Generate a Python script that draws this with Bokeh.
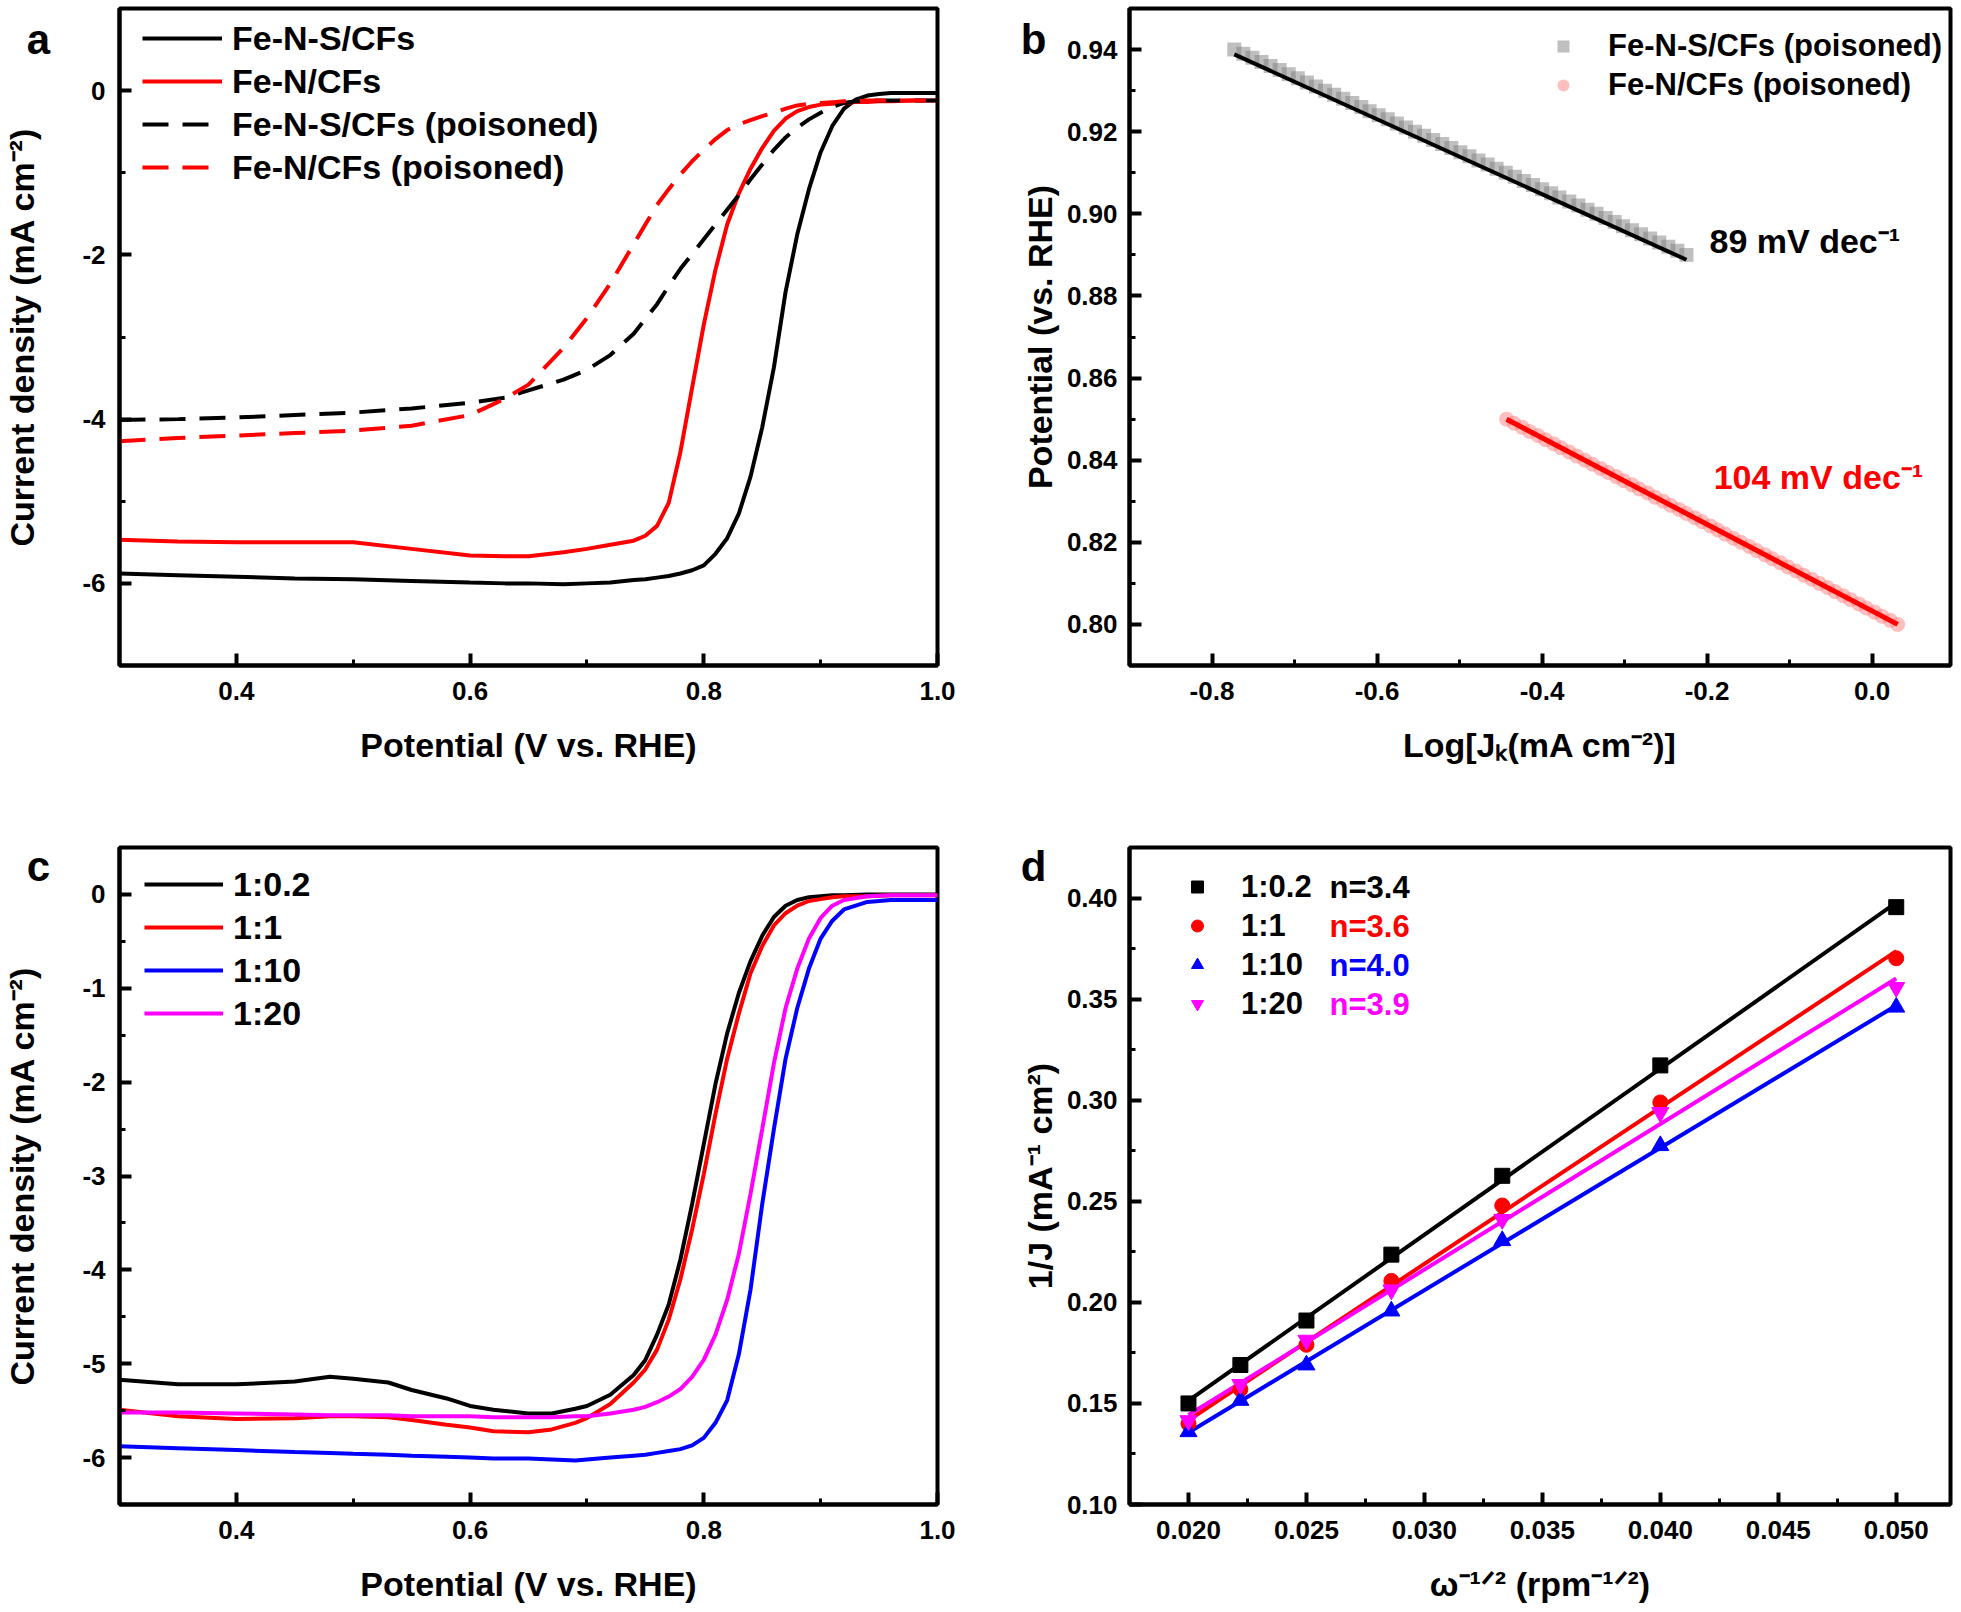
import numpy as np
from bokeh.plotting import figure
from bokeh.models import Range1d, FixedTicker, Legend, LegendItem, Label, NumeralTickFormatter
from bokeh.layouts import row, column
from bokeh.embed import file_html
from bokeh.resources import INLINE

FONT = "Liberation Sans"

# ---------------- Panel a data ----------------
a_x = [0.30, 0.35, 0.40, 0.45, 0.50, 0.55, 0.60, 0.63, 0.65, 0.68, 0.70, 0.72, 0.74, 0.75,
       0.76, 0.77, 0.78, 0.79, 0.80, 0.81, 0.82, 0.83, 0.84, 0.85, 0.86, 0.87, 0.88, 0.89,
       0.90, 0.91, 0.92, 0.93, 0.94, 0.95, 0.96, 0.98, 1.00]
a_fens = [-5.88, -5.90, -5.92, -5.94, -5.95, -5.97, -5.99, -6.00, -6.00, -6.01, -6.00, -5.99, -5.96, -5.95,
          -5.93, -5.91, -5.88, -5.84, -5.78, -5.64, -5.45, -5.15, -4.70, -4.10, -3.37, -2.45, -1.75, -1.20,
          -0.75, -0.43, -0.22, -0.11, -0.06, -0.04, -0.03, -0.03, -0.03]
a_fen = [-5.47, -5.49, -5.50, -5.50, -5.50, -5.58, -5.66, -5.67, -5.67, -5.62, -5.58, -5.53, -5.48, -5.42,
         -5.30, -5.02, -4.40, -3.62, -2.85, -2.18, -1.63, -1.25, -0.95, -0.70, -0.49, -0.34, -0.25, -0.20,
         -0.17, -0.16, -0.15, -0.14, -0.14, -0.13, -0.13, -0.12, -0.12]
a_fens_p = [-4.01, -4.00, -3.98, -3.95, -3.92, -3.87, -3.80, -3.74, -3.65, -3.52, -3.40, -3.22, -2.96, -2.78,
            -2.60, -2.38, -2.17, -1.99, -1.81, -1.63, -1.45, -1.27, -1.08, -0.90, -0.72, -0.57, -0.45, -0.35,
            -0.27, -0.20, -0.15, -0.13, -0.12, -0.12, -0.12, -0.12, -0.12]
a_fen_p = [-4.27, -4.23, -4.20, -4.17, -4.14, -4.08, -3.95, -3.75, -3.58, -3.13, -2.77, -2.35, -1.87, -1.63,
           -1.39, -1.20, -1.02, -0.86, -0.72, -0.59, -0.48, -0.41, -0.36, -0.31, -0.27, -0.22, -0.18, -0.16,
           -0.15, -0.14, -0.13, -0.13, -0.12, -0.12, -0.12, -0.12, -0.12]
a_labels = ["Fe-N-S/CFs", "Fe-N/CFs", "Fe-N-S/CFs (poisoned)", "Fe-N/CFs (poisoned)"]

# ---------------- Panel b data ----------------
b_fens_x = [-0.773, -0.762, -0.751, -0.740, -0.729, -0.718, -0.707, -0.696, -0.685, -0.674,
            -0.663, -0.652, -0.641, -0.630, -0.619, -0.609, -0.598, -0.587, -0.576, -0.565,
            -0.554, -0.543, -0.532, -0.521, -0.510, -0.499, -0.488, -0.477, -0.466, -0.455,
            -0.444, -0.433, -0.422, -0.411, -0.400, -0.389, -0.379, -0.367, -0.356, -0.345,
            -0.334, -0.323, -0.312, -0.302, -0.291, -0.280, -0.269, -0.258, -0.247, -0.236, -0.225]
b_fens_y = [0.940, 0.939, 0.938, 0.937, 0.936, 0.935, 0.934, 0.933, 0.932, 0.931,
            0.930, 0.929, 0.928, 0.927, 0.926, 0.925, 0.924, 0.923, 0.922, 0.921,
            0.920, 0.919, 0.918, 0.917, 0.916, 0.915, 0.914, 0.913, 0.912, 0.911,
            0.910, 0.909, 0.908, 0.907, 0.906, 0.905, 0.904, 0.903, 0.902, 0.901,
            0.900, 0.899, 0.898, 0.897, 0.896, 0.895, 0.894, 0.893, 0.892, 0.891, 0.890]
b_fen_x = [-0.443, -0.434, -0.424, -0.415, -0.405, -0.396, -0.386, -0.377, -0.367, -0.358,
           -0.348, -0.339, -0.329, -0.320, -0.310, -0.301, -0.291, -0.282, -0.272, -0.263,
           -0.253, -0.244, -0.234, -0.225, -0.215, -0.206, -0.196, -0.187, -0.178, -0.168,
           -0.159, -0.149, -0.140, -0.130, -0.121, -0.111, -0.102, -0.092, -0.083, -0.073,
           -0.064, -0.054, -0.045, -0.035, -0.026, -0.016, -0.007, 0.003, 0.012, 0.022, 0.031]
b_fen_y = [0.850, 0.849, 0.848, 0.847, 0.846, 0.845, 0.844, 0.843, 0.842, 0.841,
           0.840, 0.839, 0.838, 0.837, 0.836, 0.835, 0.834, 0.833, 0.832, 0.831,
           0.830, 0.829, 0.828, 0.827, 0.826, 0.825, 0.824, 0.823, 0.822, 0.821,
           0.820, 0.819, 0.818, 0.817, 0.816, 0.815, 0.814, 0.813, 0.812, 0.811,
           0.810, 0.809, 0.808, 0.807, 0.806, 0.805, 0.804, 0.803, 0.802, 0.801, 0.800]
b_labels = ["Fe-N-S/CFs (poisoned)", "Fe-N/CFs (poisoned)"]
b_slopes = ["89 mV dec\u207b\u00b9", "104 mV dec\u207b\u00b9"]

# ---------------- Panel c data ----------------
c_x = [0.30, 0.35, 0.40, 0.45, 0.48, 0.50, 0.53, 0.55, 0.58, 0.60, 0.62, 0.65, 0.67, 0.69, 0.70,
       0.72, 0.74, 0.75, 0.76, 0.77, 0.78, 0.79, 0.80, 0.81, 0.82, 0.83, 0.84, 0.85, 0.86, 0.87,
       0.88, 0.89, 0.90, 0.91, 0.92, 0.94, 0.96, 0.98, 1.00]
c_r02 = [-5.17, -5.22, -5.22, -5.19, -5.14, -5.16, -5.20, -5.28, -5.37, -5.45, -5.49, -5.53, -5.53, -5.48, -5.45,
         -5.33, -5.12, -4.96, -4.69, -4.37, -3.89, -3.30, -2.66, -2.02, -1.48, -1.05, -0.71, -0.44, -0.24, -0.12,
         -0.06, -0.03, -0.02, -0.01, -0.01, 0.0, 0.0, 0.0, 0.0]
c_r1 = [-5.49, -5.56, -5.59, -5.58, -5.56, -5.56, -5.57, -5.60, -5.65, -5.68, -5.72, -5.73, -5.70, -5.63, -5.58,
        -5.43, -5.20, -5.06, -4.85, -4.53, -4.10, -3.57, -2.98, -2.34, -1.75, -1.27, -0.84, -0.55, -0.33, -0.20,
        -0.12, -0.07, -0.05, -0.03, -0.02, -0.02, -0.01, -0.01, -0.01]
c_r10 = [-5.88, -5.90, -5.92, -5.94, -5.95, -5.96, -5.97, -5.98, -5.99, -6.00, -6.01, -6.01, -6.02, -6.03, -6.02,
         -6.00, -5.98, -5.97, -5.95, -5.93, -5.91, -5.87, -5.79, -5.63, -5.39, -4.90, -4.21, -3.30, -2.50, -1.75,
         -1.21, -0.79, -0.47, -0.28, -0.16, -0.08, -0.06, -0.06, -0.06]
c_r20 = [-5.52, -5.52, -5.53, -5.54, -5.55, -5.55, -5.55, -5.56, -5.56, -5.56, -5.57, -5.57, -5.57, -5.56, -5.56,
         -5.53, -5.49, -5.46, -5.41, -5.35, -5.27, -5.14, -4.96, -4.69, -4.32, -3.83, -3.19, -2.50, -1.80, -1.21,
         -0.79, -0.47, -0.25, -0.12, -0.06, -0.02, -0.01, -0.01, -0.01]
c_labels = ["1:0.2", "1:1", "1:10", "1:20"]

# ---------------- Panel d data ----------------
d_x = [0.0200, 0.0222, 0.0250, 0.0286, 0.0333, 0.0400, 0.0500]
d_r02 = [0.150, 0.169, 0.191, 0.2236, 0.2626, 0.3172, 0.3955]
d_r1 = [0.140, 0.157, 0.179, 0.2106, 0.2479, 0.2989, 0.3702]
d_r10 = [0.136, 0.1515, 0.169, 0.1957, 0.2305, 0.2775, 0.346]
d_r20 = [0.1415, 0.1594, 0.1813, 0.2062, 0.2410, 0.2939, 0.3558]
d_labels = ["1:0.2", "1:1", "1:10", "1:20"]
d_n = ["n=3.4", "n=3.6", "n=4.0", "n=3.9"]

panel_letters = ["a", "b", "c", "d"]

# ---------------- helpers ----------------
def make_fig(width, height, xr, yr, bl, br, bt, bb, xfmt, yfmt):
    p = figure(width=width, height=height, x_range=Range1d(*xr), y_range=Range1d(*yr),
               output_backend="svg", toolbar_location=None,
               min_border_left=bl, min_border_right=br, min_border_top=bt, min_border_bottom=bb)
    p.grid.visible = False
    p.outline_line_color = "black"
    p.outline_line_width = 4
    p.outline_line_alpha = 1
    p.background_fill_color = "white"
    p.border_fill_color = "white"
    for ax in (p.xaxis[0], p.yaxis[0]):
        ax.axis_line_width = 4
        ax.major_tick_line_width = 4
        ax.minor_tick_line_width = 3
        ax.major_tick_in = 12
        ax.major_tick_out = 0
        ax.minor_tick_in = 6
        ax.minor_tick_out = 0
        ax.major_label_text_font = FONT
        ax.major_label_text_font_style = "bold"
        ax.major_label_text_font_size = "26px"
        ax.major_label_text_color = "black"
        ax.axis_label_text_font = FONT
        ax.axis_label_text_font_style = "bold"
        ax.axis_label_text_font_size = "34px"
        ax.axis_label_text_color = "black"
    p.xaxis[0].formatter = NumeralTickFormatter(format=xfmt)
    p.yaxis[0].formatter = NumeralTickFormatter(format=yfmt)
    p.xaxis[0].major_label_standoff = 16
    p.xaxis[0].axis_label_standoff = 23
    return p


def style_legend(leg, size, gw, gh, spacing, standoff):
    leg.label_text_font = FONT
    leg.label_text_font_style = "bold"
    leg.label_text_font_size = size
    leg.label_text_color = "black"
    leg.glyph_width = gw
    leg.glyph_height = gh
    leg.label_height = gh
    leg.spacing = spacing
    leg.padding = 0
    leg.margin = 0
    leg.label_standoff = standoff
    leg.border_line_alpha = 0
    leg.background_fill_alpha = 0


def letter_fig(txt, cx, cy, host_width, host_height):
    # transparent strip, as tall as its panel, laid over the panel's left border (negative margins)
    f = figure(width=80, height=host_height, x_range=Range1d(0, 80), y_range=Range1d(host_height, 0),
               output_backend="svg", toolbar_location=None, x_axis_location=None,
               y_axis_location=None, min_border=0, min_border_left=0, min_border_right=0,
               min_border_top=0, min_border_bottom=0)
    f.grid.visible = False
    f.outline_line_color = None
    f.background_fill_alpha = 0
    f.border_fill_alpha = 0
    f.margin = (0, host_width - 80, 0, -host_width)
    f.add_layout(Label(x=cx, y=cy, text=txt, text_font=FONT, text_font_style="bold",
                       text_font_size="42px", text_align="center", text_baseline="middle",
                       text_color="black"))
    return f


W_LEFT = 999
W_RIGHT = 954
H_TOP = 795
H_BOT = 813

# ---------------- Panel a ----------------
pa = make_fig(W_LEFT, H_TOP, (0.3, 1.0), (-7, 1), 114, 62, 8, 130, "0.0", "0")
pa.xaxis.ticker = FixedTicker(ticks=[0.4, 0.6, 0.8, 1.0], minor_ticks=[0.3, 0.5, 0.7, 0.9])
pa.yaxis.ticker = FixedTicker(ticks=[-6, -4, -2, 0], minor_ticks=[-7, -5, -3, -1, 1])
pa.xaxis.axis_label = "Potential (V vs. RHE)"
pa.yaxis.axis_label = "Current density (mA cm\u207b\u00b2)"
pa.yaxis.major_label_standoff = 14
pa.yaxis.axis_label_standoff = 38
ra1 = pa.line(a_x, a_fens, line_color="black", line_width=4)
ra2 = pa.line(a_x, a_fen, line_color="red", line_width=4)
ra3 = pa.line(a_x, a_fens_p, line_color="black", line_width=4, line_dash="26 14")
ra4 = pa.line(a_x, a_fen_p, line_color="red", line_width=4, line_dash="26 14")
leg_a = Legend(items=[LegendItem(label=l, renderers=[r]) for l, r in zip(a_labels, [ra1, ra2, ra3, ra4])],
               location=(23, 478))
style_legend(leg_a, "34px", 80, 40, 3, 10)
pa.add_layout(leg_a)

# ---------------- Panel b ----------------
pb = make_fig(W_RIGHT, H_TOP, (-0.9, 0.095), (0.79, 0.95), 130, 3, 8, 130, "0.0", "0.00")
pb.xaxis.ticker = FixedTicker(ticks=[-0.8, -0.6, -0.4, -0.2, 0.0], minor_ticks=[-0.9, -0.7, -0.5, -0.3, -0.1, 0.1])
pb.yaxis.ticker = FixedTicker(ticks=[0.80, 0.82, 0.84, 0.86, 0.88, 0.90, 0.92, 0.94],
                              minor_ticks=[0.79, 0.81, 0.83, 0.85, 0.87, 0.89, 0.91, 0.93, 0.95])
pb.xaxis.axis_label = "Log[J\u2096(mA cm\u207b\u00b2)]"
pb.yaxis.axis_label = "Potential (vs. RHE)"
pb.yaxis.major_label_standoff = 12
pb.yaxis.axis_label_standoff = 5
rb1 = pb.scatter(b_fens_x, b_fens_y, marker="square", size=14, fill_color="#808080", fill_alpha=0.5, line_alpha=0)
rb2 = pb.scatter(b_fen_x, b_fen_y, marker="circle", size=15, fill_color="#ff7f7f", fill_alpha=0.5, line_alpha=0)
k1 = np.polyfit(b_fens_x, b_fens_y, 1)
fx1 = np.array([b_fens_x[0], b_fens_x[-1]])
pb.line(fx1, np.polyval(k1, fx1) - 0.0012, line_color="black", line_width=4)
k2 = np.polyfit(b_fen_x, b_fen_y, 1)
fx2 = np.array([b_fen_x[0], b_fen_x[-1]])
pb.line(fx2, np.polyval(k2, fx2), line_color="red", line_width=5)
leg_b = Legend(items=[LegendItem(label=l, renderers=[r]) for l, r in zip(b_labels, [rb1, rb2])],
               location=(419, 562))
style_legend(leg_b, "31px", 30, 36, 3, 30)
pb.add_layout(leg_b)
pb.add_layout(Label(x=-0.197, y=0.8935, text=b_slopes[0], text_font=FONT, text_font_style="bold",
                    text_font_size="34px", text_baseline="middle", text_color="black"))
pb.add_layout(Label(x=-0.192, y=0.8358, text=b_slopes[1], text_font=FONT, text_font_style="bold",
                    text_font_size="34px", text_baseline="middle", text_color="red"))

# ---------------- Panel c ----------------
pc = make_fig(W_LEFT, H_BOT, (0.3, 1.0), (-6.5, 0.5), 114, 62, 52, 104, "0.0", "0")
pc.xaxis.ticker = FixedTicker(ticks=[0.4, 0.6, 0.8, 1.0], minor_ticks=[0.3, 0.5, 0.7, 0.9])
pc.yaxis.ticker = FixedTicker(ticks=[-6, -5, -4, -3, -2, -1, 0],
                              minor_ticks=[-6.5, -5.5, -4.5, -3.5, -2.5, -1.5, -0.5, 0.5])
pc.xaxis.axis_label = "Potential (V vs. RHE)"
pc.yaxis.axis_label = "Current density (mA cm\u207b\u00b2)"
pc.yaxis.major_label_standoff = 14
pc.yaxis.axis_label_standoff = 38
rc1 = pc.line(c_x, c_r02, line_color="black", line_width=4)
rc2 = pc.line(c_x, c_r1, line_color="red", line_width=4)
rc3 = pc.line(c_x, c_r10, line_color="blue", line_width=4)
rc4 = pc.line(c_x, c_r20, line_color="magenta", line_width=4)
leg_c = Legend(items=[LegendItem(label=l, renderers=[r]) for l, r in zip(c_labels, [rc1, rc2, rc3, rc4])],
               location=(25, 471))
style_legend(leg_c, "34px", 79, 40, 3, 10)
pc.add_layout(leg_c)

# ---------------- Panel d ----------------
pd_ = make_fig(W_RIGHT, H_BOT, (0.0175, 0.0523), (0.1, 0.425), 130, 3, 52, 104, "0.000", "0.00")
pd_.xaxis.ticker = FixedTicker(ticks=[0.020, 0.025, 0.030, 0.035, 0.040, 0.045, 0.050],
                               minor_ticks=[0.0175, 0.0225, 0.0275, 0.0325, 0.0375, 0.0425, 0.0475, 0.0525])
pd_.yaxis.ticker = FixedTicker(ticks=[0.10, 0.15, 0.20, 0.25, 0.30, 0.35, 0.40],
                               minor_ticks=[0.125, 0.175, 0.225, 0.275, 0.325, 0.375, 0.425])
pd_.xaxis.axis_label = "\u03c9\u207b\u00b9\u141f\u00b2 (rpm\u207b\u00b9\u141f\u00b2)"
pd_.yaxis.axis_label = "1/J (mA\u207b\u00b9 cm\u00b2)"
pd_.yaxis.major_label_standoff = 12
pd_.yaxis.axis_label_standoff = 5
d_series = [d_r02, d_r1, d_r10, d_r20]
d_colors = ["black", "red", "blue", "magenta"]
d_markers = ["square", "circle", "triangle", "inverted_triangle"]
d_sizes = [15, 15, 17, 17]
fxd = np.array([d_x[0], d_x[-1]])
d_rend = []
for ys, col in zip(d_series, d_colors):
    k = np.polyfit(d_x, ys, 1)
    pd_.line(fxd, np.polyval(k, fxd), line_color=col, line_width=4)
for ys, col, mk, sz in zip(d_series, d_colors, d_markers, d_sizes):
    d_rend.append(pd_.scatter(d_x, ys, marker=mk, size=sz, fill_color=col, line_color=col))
leg_d = Legend(items=[LegendItem(label=l, renderers=[r]) for l, r in zip(d_labels, d_rend)],
               location=(53, 482))
style_legend(leg_d, "31px", 30, 37, 2, 29)
pd_.add_layout(leg_d)
for i, (txt, col) in enumerate(zip(d_n, d_colors)):
    pd_.add_layout(Label(x=0.0175, y=0.425, x_offset=200, y_offset=-40 - 39 * i, text=txt,
                         text_font=FONT, text_font_style="bold", text_font_size="31px",
                         text_baseline="middle", text_color=col))

# ---------------- panel letters (overlays on the left borders) ----------------
la = letter_fig(panel_letters[0], 38, 37, W_LEFT, H_TOP)
lb = letter_fig(panel_letters[1], 34, 37, W_RIGHT, H_TOP)
lc = letter_fig(panel_letters[2], 38, 23, W_LEFT, H_BOT)
ld = letter_fig(panel_letters[3], 34, 23, W_RIGHT, H_BOT)

layout = column(row(pa, la, pb, lb), row(pc, lc, pd_, ld))
open("out.html", "w").write(file_html(layout, INLINE))
